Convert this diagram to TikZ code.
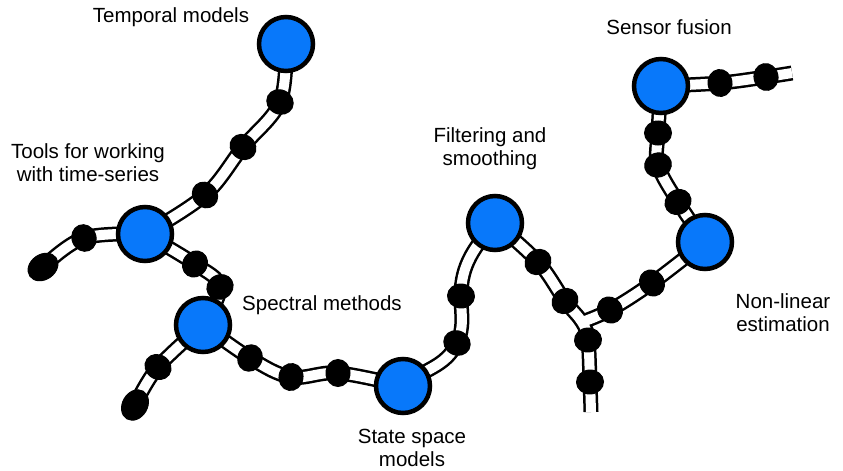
\documentclass[tikz,border=0pt]{standalone}
\usepackage{fontspec}
\setmainfont{Liberation Sans}
\usetikzlibrary{shapes.geometric}
\pgfdeclarelayer{tubeout}
\pgfdeclarelayer{tubein}
\pgfsetlayers{tubeout,tubein,main}
\definecolor{topicblue}{RGB}{8,120,250}
% a tube: black outer stroke on one layer, white core on the next,
% so that tubes meeting at a junction merge into one another
\newcommand\tubeline[1]{%
  \begin{pgfonlayer}{tubeout}\draw[tubeouter] #1;\end{pgfonlayer}%
  \begin{pgfonlayer}{tubein}\draw[tubeinner] #1;\end{pgfonlayer}}

\begin{document}
\begin{tikzpicture}[x=1pt,y=-1pt,
  topic/.style={circle, fill=topicblue, draw=black, line width=4.5pt,
    minimum size=54pt, inner sep=0pt},
  bead/.style={ellipse, fill=black, draw=black, line width=1pt,
    minimum width=24pt, minimum height=27pt, inner sep=0pt},
  endbead/.style={bead, minimum width=32pt, minimum height=25pt},
  txt/.style={font=\fontsize{20.5}{23}\selectfont, align=center, inner sep=0pt},
  tubeouter/.style={line width=15pt, black},
  tubeinner/.style={line width=10pt, white},
]
\useasboundingbox (0,0) rectangle (843,471);

% topics
\node[topic] (temporal) at (286,44) {};
\node[topic] (tools)    at (145,234) {};
\node[topic] (spectral) at (203,325) {};
\node[topic] (state)    at (403,386) {};
\node[topic] (filter)   at (495,223) {};
\node[topic] (sensor)   at (661,86) {};
\node[topic] (nonlin)   at (705,242) {};

% beads along the tubes
\node[bead, rotate=64]  (b11) at (280,102) {};
\node[bead, rotate=51]  (b12) at (243,147) {};
\node[bead, rotate=42]  (b13) at (205,195) {};
\node[bead, rotate=22]  (b21) at (84,238) {};
\node[endbead, rotate=35] (b22) at (43,267) {};
\node[bead, rotate=-34] (b31) at (195,264) {};
\node[bead, rotate=-60] (b32) at (220,287) {};
\node[bead, rotate=54]  (b41) at (158,367) {};
\node[endbead, rotate=60] (b42) at (135,405) {};
\node[bead, rotate=-27] (b51) at (250,358) {};
\node[bead, rotate=-9]  (b52) at (291,377) {};
\node[bead, rotate=0]   (b53) at (338,373) {};
\node[bead, rotate=63]  (b61) at (457,343) {};
\node[bead, rotate=87]  (b62) at (461,296) {};
\node[bead, rotate=-51] (b71) at (538,262) {};
\node[bead, rotate=-52] (b72) at (565,301) {};
\node[bead, rotate=-86] (b73) at (588,340) {};
\node[bead, rotate=-88] (b74) at (590,382) {};
\node[bead, rotate=34]  (b81) at (652,283) {};
\node[bead, rotate=33]  (b82) at (610,310) {};
\node[bead, rotate=126] (b91) at (678,202) {};
\node[bead, rotate=106] (b92) at (658,165) {};
\node[bead, rotate=90]  (b93) at (658,133) {};
\node[bead, rotate=7]   (b101) at (720,83) {};
\node[bead, rotate=11]  (b102) at (766,77) {};
\coordinate (junction) at (582,322);
\coordinate (tailS) at (591,412);
\coordinate (tailE) at (792,73);

% tubes
\tubeline{plot[smooth,tension=0.6] coordinates {(temporal.center) (b11.center) (b12.center) (b13.center) (tools.center)}}
\tubeline{plot[smooth,tension=0.6] coordinates {(tools.center) (b21.center) (b22.center)}}
\tubeline{plot[smooth,tension=0.6] coordinates {(tools.center) (b31.center) (b32.center) (spectral.center)}}
\tubeline{plot[smooth,tension=0.6] coordinates {(spectral.center) (b41.center) (b42.center)}}
\tubeline{plot[smooth,tension=0.6] coordinates {(spectral.center) (b51.center) (b52.center) (b53.center) (state.center)}}
\tubeline{(state.center) to[out=40,in=-115] (b61.center) to[out=65,in=-90] (b62.center) to[out=90,in=-130] (filter.center)}
\tubeline{plot[smooth,tension=0.6] coordinates {(filter.center) (b71.center) (b72.center) (junction) (b73.center) (b74.center) (tailS)}}
\tubeline{plot[smooth,tension=0.6] coordinates {(nonlin.center) (b81.center) (b82.center) (junction)}}
\tubeline{plot[smooth,tension=0.6] coordinates {(nonlin.center) (b91.center) (b92.center) (b93.center) (sensor.center)}}
\tubeline{plot[smooth,tension=0.6] coordinates {(sensor.center) (b101.center) (b102.center) (tailE)}}

% labels (base = baseline of the last line)
\node[txt, anchor=base] (lblTemporal) at (171,23)  {Temporal models};
\node[txt, anchor=base] (lblTools)    at (88,181)  {Tools for working\\with time-series};
\node[txt, anchor=base] (lblFilter)   at (490,165) {Filtering and\\smoothing};
\node[txt, anchor=base] (lblSensor)   at (669,34)  {Sensor fusion};
\node[txt, anchor=base] (lblSpectral) at (322,310) {Spectral methods};
\node[txt, anchor=base] (lblNonlin)   at (783,331) {Non-linear\\estimation};
\node[txt, anchor=base] (lblState)    at (412,466) {State space\\models};
\end{tikzpicture}
\end{document}
